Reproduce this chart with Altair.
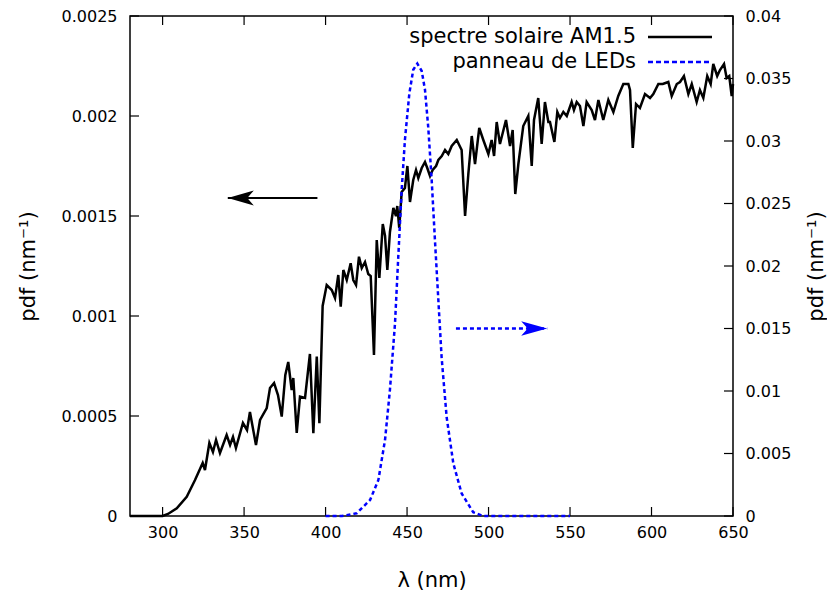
import altair as alt
import pandas as pd

# ---- data ----
sun_lambda = [280, 300, 303.3, 308.7, 314.8, 319.9, 324.6, 326.0, 328.7, 330.9, 332.8, 335.2,
              339.3, 341.4, 343.2, 345.0, 349.3, 351.8, 353.6, 357.3, 359.8, 363.9, 365.9,
              368.4, 370.8, 373.1, 375.3, 377.1, 379.2, 380.2, 382.3, 384.3, 387.4, 390.4,
              392.5, 394.6, 396.2, 398.2, 400.7, 403.8, 405.8, 407.8, 409.3, 410.9, 413.0,
              415.4, 417.0, 418.7, 420.5, 422.2, 424.2, 426.2, 427.7, 429.7, 431.4, 433.0,
              435.1, 436.5, 437.9, 439.5, 441.6, 443.2, 444.0, 445.2, 446.7, 448.7, 450.2,
              451.8, 453.8, 455.5, 456.9, 459.0, 461.0, 462.4, 464.1, 465.7, 467.8, 469.2,
              471.3, 473.3, 475.3, 477.4, 480.5, 483.5, 485.6, 487.6, 489.7, 491.7, 494.3,
              496.8, 499.9, 501.9, 503.4, 505.0, 507.0, 510.7, 513.2, 514.8, 516.4, 518.3,
              521.3, 524.4, 526.5, 527.9, 530.5, 532.6, 534.6, 536.7, 537.7, 540.4, 542.2,
              543.8, 545.9, 548.0, 551.0, 552.4, 554.1, 556.1, 558.2, 560.2, 563.3, 565.3,
              567.4, 570.4, 573.5, 576.6, 579.6, 582.7, 585.8, 586.8, 588.5, 590.5, 592.9,
              596.0, 599.1, 601.1, 604.2, 606.9, 610.3, 612.4, 615.5, 617.5, 619.9, 622.6,
              624.7, 627.7, 629.7, 631.8, 634.2, 636.3, 637.9, 640.3, 642.0, 644.5, 646.1,
              647.7, 649.2, 650]
sun_pdf = [0, 0, 0.00001, 0.0000385, 0.0000965, 0.00018, 0.000265, 0.00023, 0.000365, 0.00032,
           0.00038, 0.000315, 0.000405, 0.000355, 0.000395, 0.00034, 0.000465, 0.00043,
           0.00052, 0.000355, 0.00048, 0.00054, 0.00064, 0.000665, 0.000605, 0.000497,
           0.000705, 0.00077, 0.00063, 0.00069, 0.000415, 0.000597, 0.00059, 0.00081,
           0.000414, 0.000797, 0.000464, 0.00105, 0.001155, 0.00113, 0.00109, 0.001205,
           0.001047, 0.00123, 0.00118, 0.001264, 0.00118, 0.001155, 0.0012965, 0.00124,
           0.00127, 0.00121, 0.0012, 0.000805, 0.00138, 0.00119, 0.00146, 0.0014, 0.00123,
           0.00142, 0.00154, 0.0015, 0.00155, 0.00144, 0.00162, 0.00164, 0.00175, 0.00157,
           0.00168, 0.00173, 0.00169, 0.00174, 0.00177, 0.00174, 0.0017, 0.00173, 0.00175,
           0.00178, 0.0018, 0.00183, 0.00181, 0.00185, 0.00188, 0.00183, 0.0015, 0.00171,
           0.0019, 0.00176, 0.00194, 0.00188, 0.00181, 0.00188, 0.0018, 0.00197, 0.00186,
           0.00198, 0.00185, 0.00193, 0.00161, 0.00176, 0.00195, 0.002, 0.00175, 0.00198,
           0.00209, 0.00186, 0.00207, 0.00197, 0.00197, 0.00187, 0.00202, 0.00199, 0.00202,
           0.002, 0.00207, 0.00203, 0.00207, 0.00205, 0.00195, 0.00207, 0.00203, 0.00198,
           0.00208, 0.00198, 0.00208, 0.00202, 0.0021, 0.00216, 0.00216, 0.00213, 0.00184,
           0.00206, 0.00204, 0.00211, 0.00209, 0.00211, 0.00216, 0.00216, 0.00217, 0.0021,
           0.00216, 0.00217, 0.0022, 0.00211, 0.00216, 0.00207, 0.00213, 0.00209, 0.0022,
           0.00216, 0.00226, 0.0022, 0.00223, 0.00226, 0.00219, 0.0022, 0.0021, 0.00216]

led_lambda = [400, 410, 419.1, 427.3, 432.4, 436.5, 439.5, 442.6, 444.6, 446.7, 448.7, 451.4,
              453.8, 456.3, 459.0, 461.0, 463.0, 465.1, 467.1, 469.2, 471.2, 474.3, 478.4,
              483.5, 490.6, 496.8, 500, 550]
led_pdf = [0, 0, 0.00022, 0.00128, 0.00288, 0.0061, 0.0101, 0.0154, 0.0207, 0.0261, 0.0301,
           0.0338, 0.0357, 0.0362, 0.0356, 0.0341, 0.0311, 0.0269, 0.0221, 0.0173, 0.0127,
           0.0079, 0.0042, 0.0018, 0.0003, 0, 0, 0]

x_ticks = [300, 350, 400, 450, 500, 550, 600, 650]
left_ticks = [0, 0.0005, 0.001, 0.0015, 0.002, 0.0025]
right_ticks = [0, 0.005, 0.01, 0.015, 0.02, 0.025, 0.03, 0.035, 0.04]
legend_labels = ["spectre solaire AM1.5", "panneau de LEDs"]
sun_arrow_x = [395, 340]
sun_arrow_y = [0.00159]
led_arrow_x = [480, 536]
led_arrow_y = [0.015]

W, H = 603, 500
FONT = "DejaVu Sans"
BLUE = "#0000ff"
TICK = 9

sun_df = pd.DataFrame({"lam": sun_lambda, "v": sun_pdf})
led_df = pd.DataFrame({"lam": led_lambda, "v": led_pdf})
xt_df = pd.DataFrame({"lam": x_ticks})
lt_df = pd.DataFrame({"v": left_ticks})
rt_df = pd.DataFrame({"v": right_ticks})
sa_df = pd.DataFrame({"x1": [sun_arrow_x[0]], "x2": [sun_arrow_x[1]], "v": sun_arrow_y})
la_df = pd.DataFrame({"x1": [led_arrow_x[0]], "x2": [led_arrow_x[1]], "v": led_arrow_y})
leg1 = pd.DataFrame({"t": [legend_labels[0]]})
leg2 = pd.DataFrame({"t": [legend_labels[1]]})

x_scale = alt.Scale(domain=[280, 650], nice=False, zero=False)
yl_scale = alt.Scale(domain=[0, 0.0025], nice=False)
yr_scale = alt.Scale(domain=[0, 0.04], nice=False)

x_axis = alt.Axis(values=x_ticks, ticks=False, domain=False, grid=False, labelFontSize=16,
                  labelPadding=8, labelFlush=False, title="λ (nm)", titleFontSize=21,
                  titleFontWeight="normal", titlePadding=29)
yl_axis = alt.Axis(values=left_ticks, format="~g", ticks=False, domain=False, grid=False,
                   labelFontSize=16, labelPadding=13, labelFlush=False, title="pdf (nm⁻¹)",
                   titleFontSize=21, titleFontWeight="normal", titlePadding=23, orient="left")
yr_axis = alt.Axis(values=right_ticks, format="~g", ticks=False, domain=False, grid=False,
                   labelFontSize=16, labelPadding=12, labelFlush=False, title="pdf (nm⁻¹)",
                   titleFontSize=21, titleFontWeight="normal", titlePadding=15,
                   orient="right", titleAngle=270, titleBaseline="top")

X = alt.X("lam:Q", scale=x_scale, axis=x_axis)
YL = alt.Y("v:Q", scale=yl_scale, axis=yl_axis)
YR = alt.Y("v:Q", scale=yr_scale, axis=yr_axis)

sun_line = alt.Chart(sun_df).mark_line(color="black", strokeWidth=2.5).encode(x=X, y=YL)

sun_arrow_line = alt.Chart(sa_df).mark_rule(color="black", strokeWidth=2).encode(
    x=alt.X("x1:Q", scale=x_scale, axis=x_axis), x2="x2:Q", y=YL)
sun_arrow_head = alt.Chart(sa_df).mark_point(
    shape="M0,0L2,-0.58L1.5,0L2,0.58Z", filled=True, size=676, color="black", opacity=1,
    strokeWidth=0).encode(x=alt.X("x2:Q", scale=x_scale, axis=x_axis), y=YL)

bottom_ticks = alt.Chart(xt_df).mark_rule(color="black", strokeWidth=1.2).encode(
    x=X, y=alt.value(H), y2=alt.value(H - TICK))
top_ticks = alt.Chart(xt_df).mark_rule(color="black", strokeWidth=1.2).encode(
    x=X, y=alt.value(0), y2=alt.value(TICK))
left_tick_marks = alt.Chart(lt_df).mark_rule(color="black", strokeWidth=1.2).encode(
    y=YL, x=alt.value(0), x2=alt.value(TICK))

leg_text1 = alt.Chart(leg1).mark_text(align="right", baseline="middle", fontSize=21,
                                       font=FONT, color="black").encode(
    text="t:N", x=alt.value(506), y=alt.value(21))
leg_text2 = alt.Chart(leg2).mark_text(align="right", baseline="middle", fontSize=21,
                                       font=FONT, color="black").encode(
    text="t:N", x=alt.value(506), y=alt.value(46))
leg_line1 = alt.Chart(leg1).mark_rule(color="black", strokeWidth=2.5).encode(
    x=alt.value(518), x2=alt.value(582), y=alt.value(21))
leg_line2 = alt.Chart(leg2).mark_rule(color=BLUE, strokeWidth=2.5, strokeDash=[5, 3]).encode(
    x=alt.value(518), x2=alt.value(580), y=alt.value(46))

left = alt.layer(sun_line, sun_arrow_line, sun_arrow_head, bottom_ticks, top_ticks,
                 left_tick_marks, leg_text1, leg_text2, leg_line1, leg_line2)

led_line = alt.Chart(led_df).mark_line(color=BLUE, strokeWidth=2.5, strokeDash=[4, 3]).encode(
    x=X, y=YR)
led_arrow_line = alt.Chart(la_df).mark_rule(color=BLUE, strokeWidth=2.5, strokeDash=[4, 3]).encode(
    x=alt.X("x1:Q", scale=x_scale, axis=x_axis), x2="x2:Q", y=YR)
led_arrow_head = alt.Chart(la_df).mark_point(
    shape="M0,0L-2,-0.55L-1.5,0L-2,0.55Z", filled=True, size=676, color=BLUE, opacity=1,
    strokeWidth=0).encode(x=alt.X("x2:Q", scale=x_scale, axis=x_axis), y=YR)
right_tick_marks = alt.Chart(rt_df).mark_rule(color="black", strokeWidth=1.2).encode(
    y=YR, x=alt.value(W), x2=alt.value(W - TICK))

right = alt.layer(led_line, led_arrow_line, led_arrow_head, right_tick_marks)

chart = alt.layer(left, right).resolve_scale(y="independent").properties(
    width=W, height=H, padding={"left": 9, "top": 0, "right": 0, "bottom": 0},
    background="white"
).configure_view(stroke="black", strokeWidth=1.5).configure_axis(
    labelFont=FONT, titleFont=FONT, labelColor="black", titleColor="black"
).configure_text(font=FONT)

chart.save("out.html", embed_options={"renderer": "svg", "actions": False})
